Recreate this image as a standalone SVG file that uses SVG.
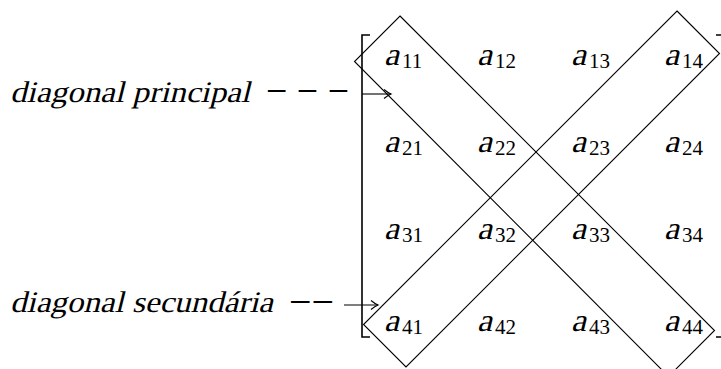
<svg xmlns="http://www.w3.org/2000/svg" width="721" height="369" viewBox="0 0 721 369">
<defs>
<style>
.ln{fill:none;stroke:#000;stroke-width:1.1}
.br{fill:none;stroke:#000;stroke-width:1.6}
text{font-family:"Liberation Serif","DejaVu Serif",serif;fill:#000}
.lbl{font-size:30px}
.dash{font-size:40px}
.a{font-size:32px}
.s{font-size:21px}
</style>
<marker id="arr" markerWidth="12" markerHeight="12" refX="10" refY="6" orient="auto" markerUnits="userSpaceOnUse">
<path d="M3,1.5 Q7,4.8 10,6 Q7,7.2 3,10.5" fill="none" stroke="#000" stroke-width="1.1"/>
</marker>
</defs>
<g id="principal">
<polygon class="ln" points="400,16 714.5,330.5 668.5,376.5 354.5,61.5"/>
</g>
<g id="secundaria">
<polygon class="ln" points="677,11 719.5,53.5 406,367 363.5,324.5"/>
</g>
<g id="matrix">
<polyline class="br" points="370,35 362,35 362,337 370,337"/>
<polyline class="br" points="716,35 722,35 722,337 716,337"/>
<g transform="translate(384,65)"><text class="a" transform="skewX(-14)" textLength="15" lengthAdjust="spacingAndGlyphs">a</text><text class="s" x="18" y="3">11</text></g>
<g transform="translate(477,65)"><text class="a" transform="skewX(-14)" textLength="15" lengthAdjust="spacingAndGlyphs">a</text><text class="s" x="18" y="3">12</text></g>
<g transform="translate(571,65)"><text class="a" transform="skewX(-14)" textLength="15" lengthAdjust="spacingAndGlyphs">a</text><text class="s" x="18" y="3">13</text></g>
<g transform="translate(664,65)"><text class="a" transform="skewX(-14)" textLength="15" lengthAdjust="spacingAndGlyphs">a</text><text class="s" x="18" y="3">14</text></g>
<g transform="translate(384,152)"><text class="a" transform="skewX(-14)" textLength="15" lengthAdjust="spacingAndGlyphs">a</text><text class="s" x="18" y="3">21</text></g>
<g transform="translate(477,152)"><text class="a" transform="skewX(-14)" textLength="15" lengthAdjust="spacingAndGlyphs">a</text><text class="s" x="18" y="3">22</text></g>
<g transform="translate(571,152)"><text class="a" transform="skewX(-14)" textLength="15" lengthAdjust="spacingAndGlyphs">a</text><text class="s" x="18" y="3">23</text></g>
<g transform="translate(664,152)"><text class="a" transform="skewX(-14)" textLength="15" lengthAdjust="spacingAndGlyphs">a</text><text class="s" x="18" y="3">24</text></g>
<g transform="translate(384,239)"><text class="a" transform="skewX(-14)" textLength="15" lengthAdjust="spacingAndGlyphs">a</text><text class="s" x="18" y="3">31</text></g>
<g transform="translate(477,239)"><text class="a" transform="skewX(-14)" textLength="15" lengthAdjust="spacingAndGlyphs">a</text><text class="s" x="18" y="3">32</text></g>
<g transform="translate(571,239)"><text class="a" transform="skewX(-14)" textLength="15" lengthAdjust="spacingAndGlyphs">a</text><text class="s" x="18" y="3">33</text></g>
<g transform="translate(664,239)"><text class="a" transform="skewX(-14)" textLength="15" lengthAdjust="spacingAndGlyphs">a</text><text class="s" x="18" y="3">34</text></g>
<g transform="translate(384,331)"><text class="a" transform="skewX(-14)" textLength="15" lengthAdjust="spacingAndGlyphs">a</text><text class="s" x="18" y="3">41</text></g>
<g transform="translate(477,331)"><text class="a" transform="skewX(-14)" textLength="15" lengthAdjust="spacingAndGlyphs">a</text><text class="s" x="18" y="3">42</text></g>
<g transform="translate(571,331)"><text class="a" transform="skewX(-14)" textLength="15" lengthAdjust="spacingAndGlyphs">a</text><text class="s" x="18" y="3">43</text></g>
<g transform="translate(664,331)"><text class="a" transform="skewX(-14)" textLength="15" lengthAdjust="spacingAndGlyphs">a</text><text class="s" x="18" y="3">44</text></g>
</g>
<g id="label-principal">
<text class="lbl" transform="translate(10,102) skewX(-14)" x="0" y="0" textLength="240" lengthAdjust="spacingAndGlyphs">diagonal principal</text>
<text class="dash" x="266" y="104" textLength="83" lengthAdjust="spacingAndGlyphs">− − −</text>
</g>
<g id="label-secundaria">
<text class="lbl" transform="translate(10,312) skewX(-14)" x="0" y="0" textLength="263" lengthAdjust="spacingAndGlyphs">diagonal secundária</text>
<text class="dash" x="289" y="315" textLength="45" lengthAdjust="spacingAndGlyphs">−−</text>
</g>
<g id="connectors">
<line class="ln" x1="362" y1="94" x2="391" y2="94" marker-end="url(#arr)"/>
<line class="ln" x1="344" y1="305" x2="378" y2="305" marker-end="url(#arr)"/>
</g>
</svg>
